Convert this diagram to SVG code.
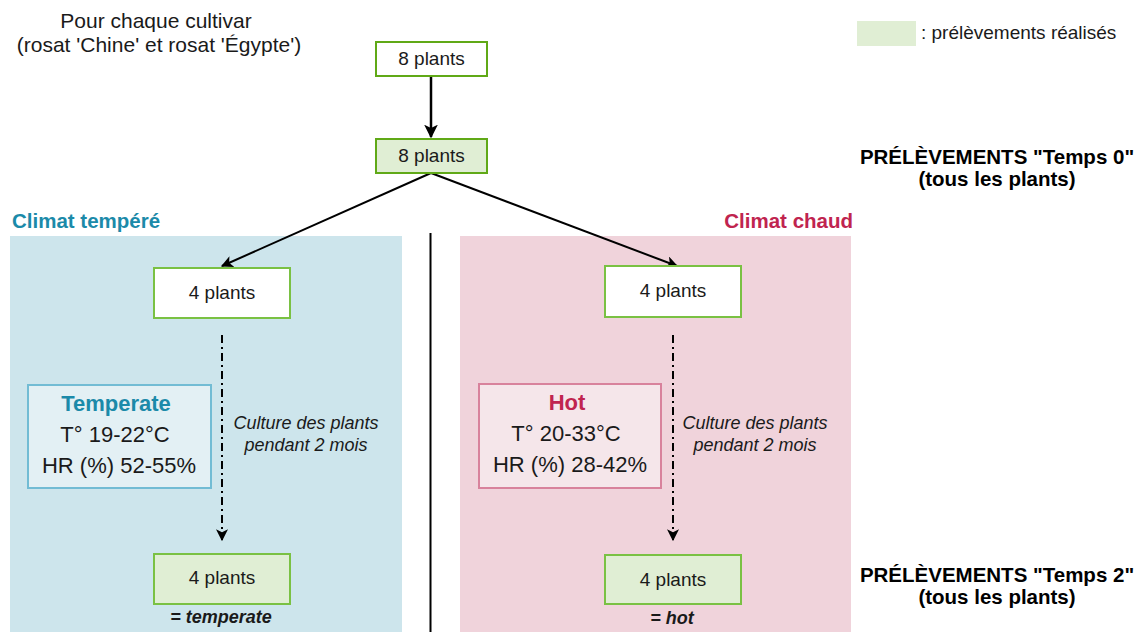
<svg xmlns="http://www.w3.org/2000/svg" width="1144" height="632" viewBox="0 0 1144 632">
<defs>
<marker id="ah" viewBox="0 0 10 10" refX="9" refY="5" markerWidth="5.5" markerHeight="5.5" markerUnits="strokeWidth" orient="auto">
<path d="M0,0 L10,5 L0,10 L2.5,5 Z" fill="#000"/>
</marker>
<marker id="ah2" viewBox="0 0 10 10" refX="9" refY="5" markerWidth="6" markerHeight="6" markerUnits="strokeWidth" orient="auto">
<path d="M0,0 L10,5 L0,10 L2.5,5 Z" fill="#000"/>
</marker>
<style>
text{font-family:"Liberation Sans",Arial,sans-serif;fill:#1a1a1a}
.c{text-anchor:middle}
.box{fill:#fff;stroke:#7ac143;stroke-width:2}
.boxT{fill:#fff;stroke:#60a917;stroke-width:2}
.samp{fill:#e0eed4}
.lbl{font-size:19px}
.bold{font-weight:bold}
.it{font-style:italic;font-size:18px}
.cond{font-size:22px}
.con{stroke:#000;fill:none}
.hdr{font-weight:bold;font-size:20.5px}
</style>
</defs>
<rect x="10" y="236" width="392" height="396" fill="#cde5ec"/>
<rect x="460" y="236" width="391" height="396" fill="#f0d3db"/>
<line x1="430.5" y1="233" x2="430.5" y2="632" stroke="#000" stroke-width="2"/>
<text x="12" y="228" class="hdr" style="fill:#1b8aa9">Climat tempéré</text>
<text x="853" y="228" class="hdr" text-anchor="end" style="fill:#c0244f">Climat chaud</text>
<g id="title">
<text x="156" y="28" class="c" font-size="21">Pour chaque cultivar</text>
<text x="159" y="52" class="c" font-size="21">(rosat 'Chine' et rosat 'Égypte')</text>
</g>
<g id="legend">
<rect x="857" y="21" width="59" height="25" class="samp"/>
<text x="921" y="39" font-size="19">: prélèvements réalisés</text>
</g>
<g id="t0label">
<text x="997" y="164" class="c hdr" style="fill:#000">PRÉLÈVEMENTS "Temps 0"</text>
<text x="997" y="186" class="c hdr" style="fill:#000">(tous les plants)</text>
</g>
<g id="t2label">
<text x="997" y="582" class="c hdr" style="fill:#000">PRÉLÈVEMENTS "Temps 2"</text>
<text x="997" y="604" class="c hdr" style="fill:#000">(tous les plants)</text>
</g>
<g id="connectors">
<line x1="431" y1="77" x2="431" y2="137" class="con" stroke-width="2.5" marker-end="url(#ah)"/>
<line x1="431" y1="173" x2="222" y2="266" class="con" stroke-width="2" marker-end="url(#ah2)"/>
<line x1="431" y1="173" x2="677" y2="266" class="con" stroke-width="2" marker-end="url(#ah2)"/>
<line x1="222" y1="335" x2="222" y2="540" class="con" stroke-width="2" stroke-dasharray="8,4,2,4" marker-end="url(#ah2)"/>
<line x1="673" y1="335" x2="673" y2="540" class="con" stroke-width="2" stroke-dasharray="8,4,2,4" marker-end="url(#ah2)"/>
</g>
<g id="n8a">
<rect x="376" y="42" width="111" height="34" class="boxT"/>
<text x="431.5" y="65" class="c lbl">8 plants</text>
</g>
<g id="n8b">
<rect x="376" y="139" width="111" height="34" class="boxT samp"/>
<text x="431.5" y="162" class="c lbl">8 plants</text>
</g>
<g id="n4tl">
<rect x="154" y="268" width="136" height="50" class="box"/>
<text x="222" y="299" class="c lbl">4 plants</text>
</g>
<g id="n4tr">
<rect x="605" y="266" width="136" height="51" class="box"/>
<text x="673" y="297" class="c lbl">4 plants</text>
</g>
<g id="n4bl">
<rect x="154" y="554" width="136" height="50" class="box samp"/>
<text x="222" y="584" class="c lbl">4 plants</text>
<text x="221" y="623" class="c bold" font-style="italic" font-size="18">= temperate</text>
</g>
<g id="n4br">
<rect x="605" y="555" width="136" height="49" class="box samp"/>
<text x="673" y="586" class="c lbl">4 plants</text>
<text x="672" y="624" class="c bold" font-style="italic" font-size="18">= hot</text>
</g>
<g id="temperate">
<rect x="28" y="385" width="183" height="103" fill="#e3f0f4" stroke="#72bcd4" stroke-width="2"/>
<text x="116" y="411" class="c bold cond" style="fill:#1b8aa9">Temperate</text>
<text x="115" y="442" class="c cond">T° 19-22°C</text>
<text x="119" y="473" class="c cond">HR (%) 52-55%</text>
</g>
<g id="hot">
<rect x="479" y="384" width="182" height="104" fill="#f5e6ea" stroke="#d8829c" stroke-width="2"/>
<text x="567" y="410" class="c bold cond" style="fill:#c0244f">Hot</text>
<text x="566" y="441" class="c cond">T° 20-33°C</text>
<text x="570" y="472" class="c cond">HR (%) 28-42%</text>
</g>
<g id="culture-l">
<text x="306" y="429" class="c it">Culture des plants</text>
<text x="306" y="451" class="c it">pendant 2 mois</text>
</g>
<g id="culture-r">
<text x="755" y="429" class="c it">Culture des plants</text>
<text x="755" y="451" class="c it">pendant 2 mois</text>
</g>
</svg>
